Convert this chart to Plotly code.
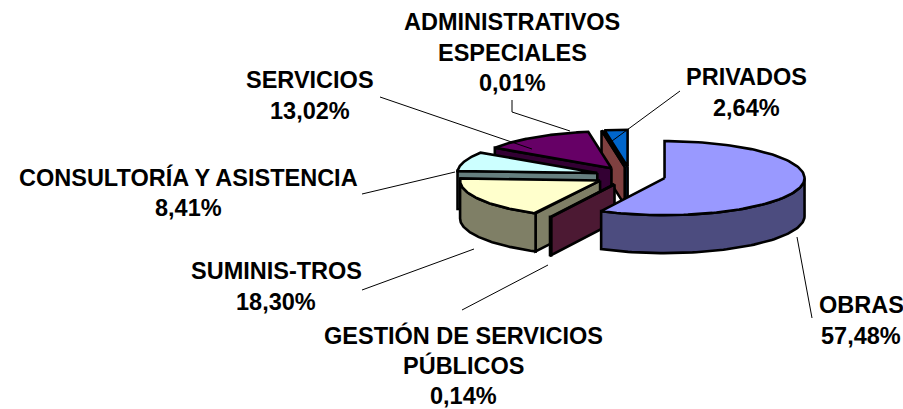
import numpy as np
import plotly.graph_objects as go

# Data (clockwise from 12 o'clock)
labels = [["OBRAS"], ["GESTIÓN DE SERVICIOS", "PÚBLICOS"], ["SUMINIS-TROS"],
          ["CONSULTORÍA Y ASISTENCIA"], ["SERVICIOS"],
          ["ADMINISTRATIVOS", "ESPECIALES"], ["PRIVADOS"]]
values = [57.48, 0.14, 18.30, 8.41, 13.02, 0.01, 2.64]
colors = ["#9999FF", "#993366", "#FFFFCC", "#CCFFFF", "#660066", "#FF8080", "#0066CC"]

# Pie projection (pixels of the 903x409 plot)
CX, CY, RX, RY, DEPTH, EXPLODE = 630.5, 176, 140, 37, 38, 0.25
FONT_SIZE, LINE_GAP = 23.5, 30.5

# Label anchors: centre x, first line y; leader line ends
label_pos = [(861, 305), (463, 335), (276, 271), (188, 177), (310, 80), (512, 22), (746, 77)]
leaders = [[(797, 237), (812, 318)], [(548, 265), (462, 310)], [(474, 249), (362, 290)],
           [(455, 172), (362, 194)], [(532, 149), (380, 97)],
           [(570, 131), (512, 112), (512, 100)], [(612, 141), (680, 91)]]


def half(c):
    return "#" + "".join(f"{int(c[i:i+2], 16) // 2:02X}" for i in (1, 3, 5))


def pt(theta, ox, oy, r=1.0, z=0.0):
    t = np.radians(theta)
    return ox + r * RX * np.sin(t), oy - r * RY * np.cos(t) + z


fig = go.Figure()


def poly(xs, ys, fill):
    fig.add_trace(go.Scatter(x=list(xs) + [xs[0]], y=list(ys) + [ys[0]], mode="lines",
                             fill="toself", fillcolor=fill,
                             line=dict(color="black", width=2.6),
                             hoverinfo="skip", showlegend=False))


total = sum(values)
edges = np.concatenate([[0], np.cumsum(values)]) / total * 360

for i in reversed(range(len(values))):
    a0, a1 = edges[i], edges[i + 1]
    mid = (a0 + a1) / 2
    ox, oy = pt(mid, CX, CY, EXPLODE)
    dark = half(colors[i])
    # radial wall facing the viewer
    if 180 <= a0 <= 360:
        px, py = pt(a0, ox, oy)
        poly([ox, px, px, ox], [oy, py, py + DEPTH, oy + DEPTH], dark)
    if 0 <= a1 <= 180:
        px, py = pt(a1, ox, oy)
        poly([ox, px, px, ox], [oy, py, py + DEPTH, oy + DEPTH], dark)
    # outer wall
    lo, hi = max(a0, 90), min(a1, 270)
    if lo < hi:
        th = np.linspace(lo, hi, 80)
        xs, ys = pt(th, ox, oy)
        poly(list(xs) + list(xs[::-1]), list(ys) + list((ys + DEPTH)[::-1]), dark)
    # top face
    th = np.linspace(a0, a1, 120)
    xs, ys = pt(th, ox, oy)
    poly([ox] + list(xs), [oy] + list(ys), colors[i])

for seg in leaders:
    fig.add_trace(go.Scatter(x=[p[0] for p in seg], y=[p[1] for p in seg], mode="lines",
                             line=dict(color="black", width=1), hoverinfo="skip",
                             showlegend=False))

font = dict(family="Liberation Sans", size=FONT_SIZE, color="black")
for lab, val, (lx, ly) in zip(labels, values, label_pos):
    lines = [f"<b>{t}</b>" for t in lab] + [f"<b>{val:.2f}%</b>".replace(".", ",")]
    for k, t in enumerate(lines):
        fig.add_annotation(x=lx, y=ly + k * LINE_GAP, text=t, showarrow=False, font=font,
                           xanchor="center", yanchor="middle")

fig.update_layout(width=903, height=409, margin=dict(l=0, r=0, t=0, b=0),
                  paper_bgcolor="white", plot_bgcolor="white",
                  xaxis=dict(range=[0, 903], visible=False, fixedrange=True),
                  yaxis=dict(range=[409, 0], visible=False, fixedrange=True))
fig.write_html("out.html", config=dict(displayModeBar=False),
               post_script="document.body.style.margin='0';document.body.style.overflow='hidden';")
